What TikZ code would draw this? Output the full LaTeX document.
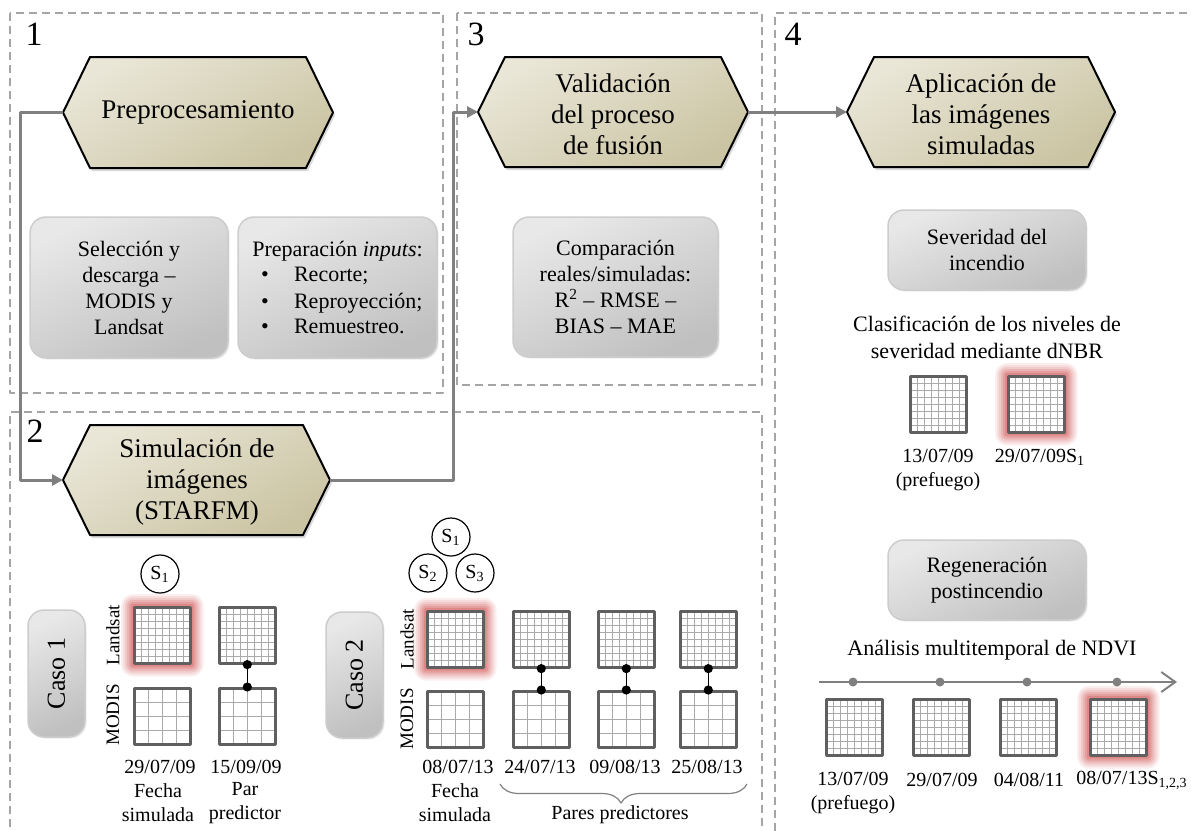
\documentclass[tikz,border=0pt]{standalone}
\usepackage{fontspec}
\setmainfont{Liberation Serif}
\usetikzlibrary{arrows.meta,shadows,backgrounds,decorations.pathreplacing}

\definecolor{hexlight}{RGB}{233,230,215}
\definecolor{hexdark}{RGB}{203,196,163}
\definecolor{boxlight}{RGB}{232,232,232}
\definecolor{boxdark}{RGB}{192,192,192}
\definecolor{boxline}{RGB}{205,205,205}
\definecolor{flowgray}{RGB}{128,128,128}
\definecolor{dashgray}{RGB}{165,165,165}
\definecolor{griddark}{RGB}{95,95,95}
\definecolor{gridlight}{RGB}{170,170,170}
\definecolor{glowred}{RGB}{205,70,70}

\begin{document}
\begin{tikzpicture}[x=0.5pt,y=-0.5pt,join=round, % 4 panels, coordinates in px from the top left
        panel/.style={draw=dashgray,line width=0.75pt,dash pattern=on 4pt off 2.5pt},
        panelnum/.style={font=\fontsize{17}{17}\selectfont,inner sep=0pt},
        hexagon/.style={draw=black,line width=1pt,top color=hexlight,bottom color=hexdark,shading angle=30,
                drop shadow={shadow xshift=1pt,shadow yshift=-1.5pt,opacity=0.3}},
        hextext/.style={align=center,inner sep=0pt,font=\fontsize{13.5}{15.5}\selectfont},
        greybox/.style={draw=boxline,line width=0.75pt,rounded corners=8pt,top color=boxlight,bottom color=boxdark,
                shading angle=25,align=center,inner sep=0pt,font=\fontsize{11}{13}\selectfont,
                drop shadow={shadow xshift=0.8pt,shadow yshift=-0.8pt,opacity=0.15}},
        flow/.style={draw=flowgray,line width=1.5pt,-{Triangle[length=5.5pt,width=5.5pt]}},
        sensor/.style={draw=griddark,line width=1.3pt,fill=white,minimum size=28pt,inner sep=0pt,anchor=north west,
                path picture={\draw[gridlight,line width=0.45pt,step=#1] (-14pt,-14pt) grid (14pt,14pt);}},
        landsat/.style={sensor=3.5pt},
        modis/.style={sensor=7pt},
        sensorname/.style={rotate=90,inner sep=0pt,font=\fontsize{9.5}{9.5}\selectfont},
        scircle/.style={circle,draw,line width=0.6pt,fill=white,minimum size=19pt,inner sep=0pt,font=\fontsize{10}{10}\selectfont},
        datetext/.style={align=center,inner sep=0pt,font=\fontsize{10}{12}\selectfont},
        pairline/.style={black,line width=0.8pt},
        tdot/.style={circle,fill=flowgray,minimum size=4.5pt,inner sep=0pt}]
        \useasboundingbox (0,0) rectangle (1191,831);
        % panels
        \draw[panel] (10,13) rectangle (443,393);
        \draw[panel] (457,13) rectangle (762,385);
        \draw[panel] (10,840) -- (10,412) -- (762,412) -- (762,840);
        \draw[panel] (1200,13) -- (775,13) -- (775,840);
        \node[panelnum] (n1) at (34,34) {1};
        \node[panelnum] (n2) at (35,431) {2};
        \node[panelnum] (n3) at (476,34) {3};
        \node[panelnum] (n4) at (793,34) {4};
        % hexagons
        \path[hexagon] (63,112.5)--(90,57)--(306,57)--(333,112.5)--(306,168)--(90,168)--cycle;
        \path[hexagon] (63,480)--(90,425)--(303,425)--(330,480)--(303,535)--(90,535)--cycle;
        \path[hexagon] (478,112)--(505,57)--(721,57)--(748,112)--(721,167)--(505,167)--cycle;
        \path[hexagon] (847,112)--(874,57)--(1088,57)--(1115,112)--(1088,167)--(874,167)--cycle;
        \coordinate (pre-w) at (63,112.5);
        \coordinate (sim-w) at (63,480);
        \coordinate (sim-e) at (330,480);
        \coordinate (val-w) at (478,112);
        \coordinate (val-e) at (748,112);
        \coordinate (app-w) at (847,112);
        \node[hextext] (pre) at (198,112) {Preprocesamiento};
        \node[hextext] (sim) at (197,482) {Simulación de\\imágenes\\(STARFM)};
        \node[hextext] (val) at (613,114) {Validación\\del proceso\\de fusión};
        \node[hextext] (app) at (981,114) {Aplicación de\\las imágenes\\simuladas};
        \draw[flow] (pre-w) -- ++(-43,0) |- (sim-w);
        \draw[flow] (sim-e) -- ++(123,0) |- (val-w);
        \draw[flow] (val-e) -- (app-w);
        % grey boxes
        \node[greybox,minimum width=99pt,minimum height=70.5pt] (sel) at (129,287.5)
                {Selección y\\descarga --\\MODIS y\\Landsat};
        \node[greybox,minimum width=99.5pt,minimum height=70.5pt,align=left] (prep) at (337.5,287.5)
                {Preparación \textit{inputs}:\\\hspace*{0.4em}\textbullet\hspace{1.15em}Recorte;\\
                 \hspace*{0.4em}\textbullet\hspace{1.15em}Reproyección;\\\hspace*{0.4em}\textbullet\hspace{1.15em}Remuestreo.};
        \node[greybox,minimum width=102.5pt,minimum height=70pt] (comp) at (615.5,287)
                {Comparación\\reales/simuladas:\\R\textsuperscript{2} -- RMSE --\\BIAS -- MAE};
        \node[greybox,minimum width=99pt,minimum height=40pt] (sev) at (987,250) {Severidad del\\incendio};
        \node[greybox,minimum width=99pt,minimum height=40pt] (reg) at (987,580) {Regeneración\\postincendio};
        \node[greybox,rotate=90,minimum width=63.5pt,minimum height=28.5pt,font=\fontsize{13}{13}\selectfont]
                (caso1) at (56.5,673.5) {Caso 1};
        \node[greybox,rotate=90,minimum width=63pt,minimum height=28.5pt,font=\fontsize{13}{13}\selectfont]
                (caso2) at (354.5,675) {Caso 2};
        % caso 1
        \node[landsat] (c1ls) at (133,606) {};
        \node[landsat] (c1lp) at (218,606) {};
        \node[modis] (c1ms) at (133,687) {};
        \node[modis] (c1mp) at (218,687) {};
        \node[scircle] (c1s1) at (160,574) {S\textsubscript{1}};
        \node[sensorname] (c1lt) at (113,635) {Landsat};
        \node[sensorname] (c1mt) at (113,715) {MODIS};
        \node[datetext] (c1d1) at (160,767) {29/07/09};
        \node[datetext] (c1d2) at (246,767) {15/09/09};
        \node[datetext] (c1f1) at (158,803) {Fecha\\simulada};
        \node[datetext] (c1f2) at (245,803) {Par\\predictor};
        % caso 2
        \node[landsat] (c2ls) at (426,610) {};
        \node[modis] (c2ms) at (426,690) {};
        \foreach \x [count=\i] in {512,597,679} {
                \node[landsat] (c2l\i) at (\x,610) {};
                \node[modis] (c2m\i) at (\x,690) {};
        }
        \node[scircle] (c2s1) at (451,537) {S\textsubscript{1}};
        \node[scircle] (c2s2) at (428,573) {S\textsubscript{2}};
        \node[scircle] (c2s3) at (475,573) {S\textsubscript{3}};
        \node[sensorname] (c2lt) at (407,639) {Landsat};
        \node[sensorname] (c2mt) at (407,719) {MODIS};
        \node[datetext] (c2d0) at (458,767) {08/07/13};
        \node[datetext] (c2d1) at (540,767) {24/07/13};
        \node[datetext] (c2d2) at (625,767) {09/08/13};
        \node[datetext] (c2d3) at (707,767) {25/08/13};
        \node[datetext] (c2f1) at (455,803) {Fecha\\simulada};
        \node[datetext] (c2f2) at (620,815) {Pares predictores};
        \coordinate (br0) at (500,784);
        \coordinate (br1) at (747,784);
        \draw[flowgray,line width=0.6pt,decorate,decoration={brace,mirror,amplitude=9.5pt,aspect=0.49}] (br0) -- (br1);
        % landsat-modis pairs
        \foreach \a/\b in {c1lp/c1mp,c2l1/c2m1,c2l2/c2m2,c2l3/c2m3} {
                \draw[pairline] (\a.south) -- (\b.north);
                \fill (\a.south) circle (2.3pt) (\b.north) circle (2.3pt);
        }
        % panel 4
        \node[datetext,font=\fontsize{11}{13.5}\selectfont] (clas) at (987,337)
                {Clasificación de los niveles de\\severidad mediante dNBR};
        \node[landsat] (sevpre) at (909,375) {};
        \node[landsat] (sevpost) at (1007,375) {};
        \node[datetext] (sevd1) at (938,470) {13/07/09\\(prefuego)};
        \node[datetext] (sevd2) at (1040,457) {29/07/09S\textsubscript{1}};
        \node[datetext,font=\fontsize{11}{13}\selectfont] (anal) at (992,650) {Análisis multitemporal de NDVI};
        \coordinate (t0) at (819,682);
        \coordinate (t1) at (1177,682);
        \draw[flowgray,line width=1pt,-{Straight Barb[length=7pt,width=10pt]}] (t0) -- (t1);
        \foreach \x [count=\i] in {853,940,1027,1117}
                \node[tdot] (tp\i) at (\x,682) {};
        \node[landsat] (ndvi1) at (825,698) {};
        \node[landsat] (ndvi2) at (912,698) {};
        \node[landsat] (ndvi3) at (999,698) {};
        \node[landsat] (ndvi4) at (1089,698) {};
        \node[datetext] (nd1) at (853,793) {13/07/09\\(prefuego)};
        \node[datetext] (nd2) at (942,780) {29/07/09};
        \node[datetext] (nd3) at (1029,780) {04/08/11};
        \node[datetext] (nd4) at (1132,780) {08/07/13S\textsubscript{1,2,3}};
        % red glow behind the simulated images
        \begin{scope}[on background layer]
                \foreach \g in {c1ls,c2ls,sevpost,ndvi4}
                        \foreach \s/\o in {6pt/0.09,5pt/0.11,4pt/0.13,3pt/0.16,2pt/0.2,1pt/0.25}
                                \fill[glowred,opacity=\o,rounded corners=\s]
                                        ([shift={(-\s,\s)}]\g.north west) rectangle ([shift={(\s,-\s)}]\g.south east);
        \end{scope}
\end{tikzpicture}
\end{document}
